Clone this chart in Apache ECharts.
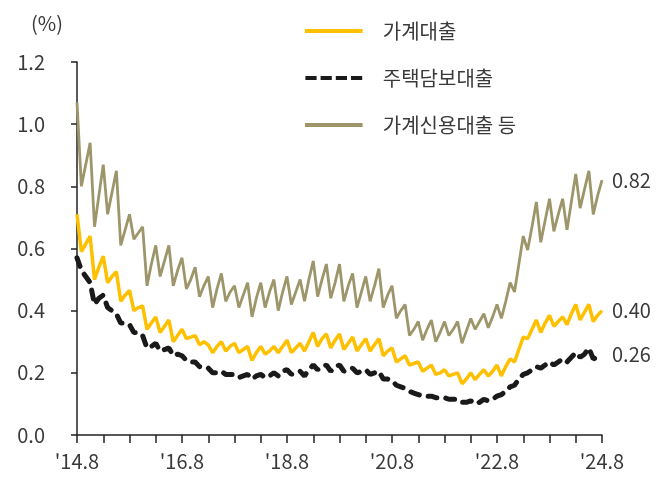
<!DOCTYPE html>
<html><head><meta charset="utf-8">
<script src="https://cdn.jsdelivr.net/npm/echarts@6/dist/echarts.min.js"></script>
<style>html,body{margin:0;padding:0;background:#fff}#c{width:666px;height:486px}</style>
</head><body><div id="c"></div>
<script>
// month index 0 = 2014.8 ... 120 = 2024.8
var startYear = 14, startMonth = 8, nMonths = 121;
var seriesNames = ['가계대출', '주택담보대출', '가계신용대출 등'];
var yTicks = [0, 0.2, 0.4, 0.6, 0.8, 1.0, 1.2];

var household = [0.71,0.59,0.615,0.64,0.50,0.54,0.575,0.49,0.51,0.525,
0.43,0.45,0.465,0.40,0.41,0.415,0.34,0.36,0.38,0.33,
0.35,0.37,0.30,0.32,0.34,0.31,0.315,0.32,0.29,0.30,
0.29,0.265,0.285,0.30,0.27,0.285,0.295,0.265,0.275,0.285,
0.24,0.265,0.285,0.26,0.27,0.285,0.265,0.285,0.305,0.265,
0.28,0.295,0.27,0.30,0.33,0.285,0.31,0.325,0.28,0.305,
0.325,0.275,0.295,0.315,0.27,0.29,0.31,0.27,0.29,0.31,
0.255,0.27,0.28,0.235,0.245,0.255,0.225,0.23,0.235,0.205,
0.215,0.225,0.195,0.20,0.21,0.19,0.195,0.20,0.165,0.18,
0.20,0.178,0.195,0.21,0.19,0.205,0.225,0.19,0.22,0.245,
0.235,0.275,0.315,0.31,0.34,0.37,0.33,0.36,0.385,0.35,
0.365,0.38,0.355,0.39,0.42,0.37,0.395,0.42,0.365,0.385,
0.40];

var mortgage = [0.57,0.53,0.51,0.49,0.42,0.44,0.45,0.41,0.40,0.39,
0.36,0.36,0.355,0.33,0.33,0.32,0.28,0.285,0.295,0.27,
0.275,0.28,0.255,0.26,0.255,0.24,0.235,0.235,0.22,0.215,
0.215,0.20,0.20,0.205,0.195,0.195,0.195,0.185,0.19,0.195,
0.18,0.19,0.195,0.185,0.19,0.20,0.19,0.205,0.21,0.195,
0.20,0.205,0.19,0.21,0.225,0.21,0.22,0.225,0.205,0.22,
0.225,0.205,0.21,0.215,0.20,0.205,0.21,0.195,0.20,0.205,
0.18,0.18,0.175,0.16,0.155,0.15,0.14,0.135,0.13,0.125,
0.125,0.125,0.12,0.12,0.12,0.115,0.115,0.115,0.105,0.105,
0.11,0.10,0.105,0.115,0.11,0.115,0.125,0.13,0.14,0.155,
0.16,0.18,0.195,0.20,0.21,0.22,0.215,0.225,0.235,0.225,
0.235,0.245,0.235,0.25,0.265,0.25,0.26,0.28,0.245,0.25,
0.26];

var credit = [1.07,0.80,0.87,0.94,0.67,0.77,0.87,0.71,0.78,0.85,
0.61,0.66,0.71,0.63,0.65,0.67,0.48,0.55,0.61,0.51,
0.56,0.61,0.48,0.53,0.57,0.47,0.50,0.54,0.445,0.48,
0.51,0.41,0.47,0.52,0.43,0.46,0.48,0.41,0.45,0.49,
0.38,0.44,0.49,0.41,0.46,0.50,0.40,0.46,0.51,0.42,
0.46,0.50,0.43,0.50,0.56,0.445,0.50,0.55,0.44,0.49,
0.55,0.43,0.48,0.52,0.41,0.46,0.51,0.43,0.48,0.535,
0.41,0.45,0.48,0.375,0.40,0.42,0.32,0.34,0.365,0.305,
0.34,0.37,0.30,0.33,0.365,0.32,0.34,0.365,0.295,0.335,
0.375,0.34,0.365,0.39,0.345,0.38,0.42,0.375,0.43,0.49,
0.46,0.55,0.64,0.595,0.67,0.75,0.62,0.69,0.76,0.655,
0.71,0.76,0.66,0.75,0.84,0.73,0.79,0.85,0.71,0.77,
0.82];

var categories = [];
for (var i = 0; i < nMonths; i++) {
  var m = startMonth - 1 + i;
  categories.push("'" + (startYear + Math.floor(m / 12)) + "." + ((m % 12) + 1));
}

var FONT = "'Noto Sans CJK KR','Noto Sans',sans-serif";
var TXT = '#3a3a3a';
var C_HH = '#ffc000', C_MG = '#1a1a1a', C_CR = '#9d966b';
var ICON_SOLID = 'path://M0,0h72v5h-72z';
var ICON_DASH = 'path://M0,0h14v5h-14zM19,0h14v5h-14zM38,0h14v5h-14zM57,0h14v5h-14z';
var chart = echarts.init(document.getElementById('c'), null, {renderer: 'canvas'});
function endLab() {
  return {show: true, distance: 10, fontSize: 20, fontFamily: FONT, color: TXT,
    formatter: function (p) { return Number(p.value).toFixed(2); }};
}
chart.setOption({
  animation: false,
  backgroundColor: '#fff',
  title: {text: '(%)', left: 26, top: 8, textStyle: {fontSize: 20, fontWeight: 'normal', fontFamily: FONT, color: TXT}},
  legend: {
    data: [
      {name: seriesNames[0], icon: ICON_SOLID},
      {name: seriesNames[1], icon: ICON_DASH},
      {name: seriesNames[2], icon: ICON_SOLID}
    ],
    orient: 'vertical', left: 300, top: 16,
    itemWidth: 72, itemHeight: 4, itemGap: 27,
    textStyle: {fontSize: 20, fontFamily: FONT, color: TXT, padding: [0, 0, 0, 8]}
  },
  grid: {left: 77, right: 64, top: 62, bottom: 51, containLabel: false},
  xAxis: {
    type: 'category', data: categories, boundaryGap: false,
    axisLine: {lineStyle: {color: '#222', width: 1.5}},
    axisTick: {show: true, length: 8, lineStyle: {color: '#222', width: 1.5},
      interval: function (idx) { return idx % 6 === 0; }},
    axisLabel: {fontSize: 20, fontFamily: FONT, color: TXT, margin: 16,
      interval: function (idx) { return idx % 24 === 0; }},
    splitLine: {show: false}
  },
  yAxis: {
    type: 'value', min: yTicks[0], max: yTicks[yTicks.length - 1], interval: 0.2,
    axisLine: {show: true, lineStyle: {color: '#222', width: 1.5}},
    axisTick: {show: true, length: 6, lineStyle: {color: '#222', width: 1.5}},
    axisLabel: {fontSize: 20, fontFamily: FONT, color: TXT, margin: 32,
      formatter: function (v) { return v.toFixed(1); }},
    splitLine: {show: false}
  },
  series: [
    {name: seriesNames[2], type: 'line', data: credit, symbol: 'none', z: 2,
      lineStyle: {color: C_CR, width: 2.8}, itemStyle: {color: C_CR}, endLabel: endLab()},
    {name: seriesNames[0], type: 'line', data: household, symbol: 'none', z: 3,
      lineStyle: {color: C_HH, width: 3.5}, itemStyle: {color: C_HH}, endLabel: endLab()},
    {name: seriesNames[1], type: 'line', data: mortgage, symbol: 'none', z: 4,
      lineStyle: {color: C_MG, width: 5, type: [9, 9], cap: 'round'}, itemStyle: {color: C_MG}, endLabel: endLab()}
  ]
});
</script></body></html>
